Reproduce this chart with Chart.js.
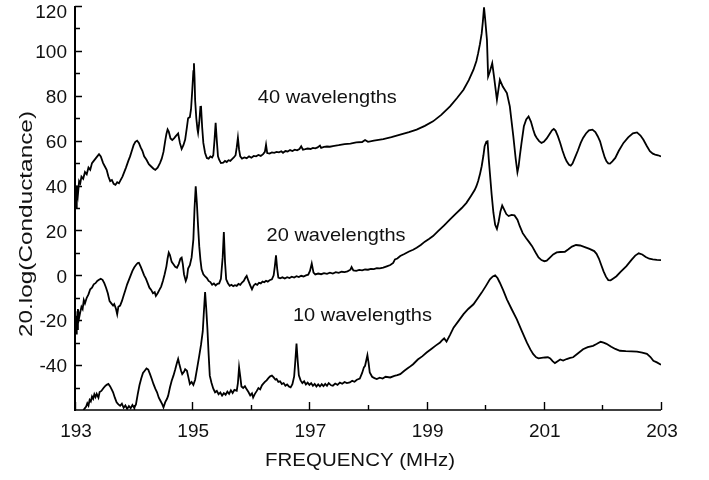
<!DOCTYPE html>
<html lang="en">
<head>
    <meta charset="UTF-8">
    <title>Conductance vs frequency</title>
    <script src="https://cdn.jsdelivr.net/npm/chart.js@4.4.1/dist/chart.umd.min.js"></script>
    <style>
        body{
            margin: 0;
            background-color: white;
        }
        #wrap{
            width: 709px;
            height: 480px;
            position: relative;
        }
    </style>
</head>
<body>
<div id="wrap"><canvas id="condChart"></canvas></div>
<script>
    // frequency (MHz), 20.log(conductance) pairs for each transducer length
    var trace40 = [
        [193.00,32],[193.01,38],[193.02,30],[193.03,40],[193.05,36],[193.07,42],[193.09,41],[193.11,44],[193.14,43],
        [193.17,46],[193.20,45],[193.23,48],[193.26,47],[193.29,50],[193.32,51],[193.35,52],[193.38,53],[193.41,54],
        [193.44,53],[193.48,50],[193.51,48.5],[193.54,47],[193.57,44],[193.60,42],[193.63,42.5],[193.66,40.8],
        [193.69,40.3],[193.72,41.5],[193.75,41],[193.78,42.5],[193.81,44],[193.84,46],[193.87,48],[193.91,51],
        [193.94,53],[193.97,55.5],[194.00,58],[194.03,59.5],[194.06,60],[194.09,59],[194.12,57],[194.15,55.5],
        [194.18,53],[194.22,51.5],[194.26,49.5],[194.30,48.5],[194.34,47.5],[194.37,47],[194.41,48],[194.45,50],
        [194.48,52],[194.51,55],[194.54,60],[194.56,63],[194.58,65],[194.60,64],[194.63,61],[194.66,60.3],
        [194.69,61],[194.72,62],[194.76,63.2],[194.79,59],[194.82,56.3],[194.85,58],[194.88,60.5],[194.91,66],
        [194.93,70],[194.96,70.5],[194.98,74],[195.00,82],[195.02,91],[195.03,94.5],[195.04,88],[195.05,78],
        [195.07,70],[195.09,65],[195.10,63.5],[195.12,68],[195.14,75],[195.15,75.5],[195.17,66],[195.19,59],
        [195.22,54.5],[195.25,52.3],[195.28,52],[195.31,53],[195.34,52.5],[195.36,53.5],[195.38,60],[195.40,68],
        [195.42,60],[195.44,53],[195.46,51.5],[195.49,50],[195.53,50.2],[195.56,51],[195.59,50.5],[195.62,51.3],
        [195.65,51],[195.68,51.8],[195.71,52.5],[195.74,53.5],[195.76,57],[195.78,61.3],[195.80,56],[195.82,53],
        [195.85,52],[195.89,52.5],[195.93,52.2],[195.97,53],[196.01,52.4],[196.05,53.2],[196.09,53],[196.13,53.6],
        [196.17,53.2],[196.21,54],[196.24,55],[196.26,58.2],[196.28,54.5],[196.32,54.3],[196.36,54.8],[196.40,54.6],
        [196.44,55],[196.48,54.8],[196.52,55.3],[196.55,54.6],[196.59,55.4],[196.63,55.2],[196.67,55.8],[196.71,55.4],
        [196.75,56],[196.79,55.7],[196.83,56.3],[196.86,57.5],[196.89,56],[196.93,56.2],[196.97,56.5],[197.02,56.3],
        [197.06,56.8],[197.10,56.6],[197.14,57],[197.18,57.8],[197.20,56.8],[197.25,57.2],[197.30,57.4],[197.35,57.3],
        [197.40,57.6],[197.50,58],[197.60,58.5],[197.70,58.7],[197.80,59.2],[197.90,59.4],[197.95,60.3],[198.00,59.5],
        [198.10,60],[198.26,60.7],[198.40,61.6],[198.55,62.7],[198.70,63.8],[198.83,64.9],[198.97,66.6],[199.11,68.6],
        [199.25,71.5],[199.40,75.3],[199.52,79],[199.63,82.7],[199.72,87],[199.80,91.6],[199.85,95.5],[199.88,99],
        [199.91,103],[199.94,107.8],[199.96,113],[199.98,119.4],[200.00,114],[200.03,104.9],[200.05,88.6],
        [200.08,90.8],[200.12,94.5],[200.15,88.6],[200.20,78.2],[200.25,87.1],[200.30,84.1],[200.37,81.2],
        [200.42,75.3],[200.48,61.9],[200.52,52],[200.55,45.9],[200.57,48.5],[200.59,53],[200.62,59],[200.66,66.4],
        [200.70,69.5],[200.74,70.8],[200.78,68.5],[200.82,64.9],[200.85,62.5],[200.88,61.2],[200.92,59.8],
        [200.96,59],[201.00,59.5],[201.05,61],[201.11,63.4],[201.14,64.6],[201.17,65.2],[201.20,64.5],[201.24,62],
        [201.28,59],[201.32,55.5],[201.36,52.5],[201.39,50.8],[201.43,49.3],[201.46,48.9],[201.49,49.8],
        [201.53,52.3],[201.58,55.5],[201.63,59],[201.67,61.2],[201.72,63.2],[201.77,64.6],[201.83,64.9],
        [201.88,63.8],[201.92,62],[201.96,59.7],[202.00,56],[202.04,52.5],[202.07,50.8],[202.10,49.9],[202.13,49.8],
        [202.17,50.8],[202.22,52.3],[202.28,55.5],[202.36,59],[202.44,61.5],[202.52,63.3],[202.59,63.7],
        [202.65,62.3],[202.70,60.4],[202.76,57.5],[202.81,55.3],[202.86,54.2],[202.90,53.8],[202.95,53.5],[203.00,53]
    ];

    var trace20 = [
        [193.00,-22],[193.01,-16],[193.02,-26],[193.03,-18],[193.04,-24],[193.05,-15],[193.07,-19],[193.09,-16.4],
        [193.11,-14],[193.13,-15],[193.15,-11],[193.17,-12.5],[193.20,-10],[193.23,-8.5],[193.26,-6.2],[193.29,-5.5],
        [193.32,-4],[193.35,-3.5],[193.38,-2.5],[193.41,-2],[193.44,-1.5],[193.47,-2],[193.50,-3.5],[193.53,-5.5],
        [193.56,-8],[193.59,-11.5],[193.62,-12.5],[193.65,-13.5],[193.67,-12.8],[193.70,-15],[193.72,-17.3],
        [193.74,-14],[193.77,-13.5],[193.80,-11.5],[193.83,-9],[193.86,-6.5],[193.89,-4],[193.92,-2],[193.95,0],
        [193.98,2],[194.01,3.5],[194.04,4.6],[194.07,5.5],[194.09,5.6],[194.12,4],[194.15,2],[194.18,0],[194.21,-1.5],
        [194.24,-3.5],[194.27,-5.5],[194.30,-6.5],[194.33,-8],[194.36,-7.5],[194.38,-9.2],[194.41,-8],[194.44,-6.5],
        [194.47,-5],[194.50,-2.5],[194.53,0.5],[194.56,4],[194.58,7.5],[194.60,10.1],[194.62,9],[194.65,6],
        [194.68,4.9],[194.71,3.8],[194.74,3.4],[194.77,5],[194.80,7.5],[194.82,7.9],[194.84,5],[194.86,0.5],
        [194.89,-2.5],[194.91,-1],[194.93,3],[194.96,4.5],[194.99,8],[195.02,16],[195.04,30],[195.06,39.7],
        [195.08,32],[195.10,22],[195.12,13],[195.14,7],[195.16,2.7],[195.19,0.5],[195.22,-0.5],[195.25,-1.2],
        [195.28,-2.5],[195.31,-3],[195.34,-4.2],[195.37,-3.6],[195.40,-4.5],[195.43,-3.8],[195.46,-3.6],[195.49,-1.5],
        [195.52,8],[195.54,19.3],[195.56,6],[195.58,-1.8],[195.61,-3.5],[195.64,-4.7],[195.67,-4.2],[195.70,-4.8],
        [195.73,-4.4],[195.76,-4.7],[195.79,-3.8],[195.82,-4.2],[195.85,-3.2],[195.88,-2.5],[195.91,-1],[195.93,-0.3],
        [195.96,-2.5],[195.99,-4.5],[196.02,-6.2],[196.05,-4.5],[196.08,-3.8],[196.11,-4.2],[196.14,-3.3],
        [196.17,-3.6],[196.20,-2.8],[196.23,-3.1],[196.26,-2.4],[196.29,-2.8],[196.32,-2.2],[196.36,-1.8],[196.39,0],
        [196.41,4],[196.43,8.9],[196.45,3],[196.47,-1],[196.50,-1.3],[196.54,-0.9],[196.58,-1.4],[196.62,-0.8],
        [196.66,-1.2],[196.70,-0.6],[196.74,-1.0],[196.78,-0.4],[196.82,-0.8],[196.86,-0.2],[196.90,-0.5],[196.94,0],
        [196.98,0.3],[197.01,2],[197.04,5.3],[197.07,1.2],[197.10,0.4],[197.15,0.8],[197.20,0.5],[197.25,1],
        [197.30,0.7],[197.35,1.2],[197.40,0.8],[197.45,1.4],[197.50,1.1],[197.55,1.6],[197.60,1.4],[197.65,1.8],
        [197.70,2.5],[197.72,3.7],[197.75,2.2],[197.80,2],[197.85,2.4],[197.90,2.2],[197.95,2.6],[198.00,2.5],
        [198.05,2.9],[198.10,2.8],[198.15,3.2],[198.20,3.1],[198.26,3.4],[198.32,4],[198.38,4.6],[198.43,5.5],
        [198.46,7.1],[198.50,7.5],[198.55,8.6],[198.62,9.5],[198.70,10.6],[198.77,11.4],[198.83,12.3],[198.90,13.5],
        [198.97,15],[199.04,16.2],[199.11,17.5],[199.20,19.8],[199.30,22.3],[199.40,24.9],[199.50,27.5],[199.60,30],
        [199.68,32.3],[199.76,35.5],[199.82,38],[199.85,39.7],[199.88,42],[199.91,45],[199.94,48.6],[199.97,53.5],
        [199.99,57.5],[200.02,59.5],[200.04,59.7],[200.06,52],[200.08,45.6],[200.11,36],[200.14,27.9],[200.17,22.5],
        [200.20,20.7],[200.23,24],[200.26,28.5],[200.29,31.1],[200.32,29.5],[200.36,27.3],[200.40,26.4],
        [200.45,26.9],[200.50,26.7],[200.55,24.8],[200.59,21.9],[200.64,18.8],[200.70,16.5],[200.75,14.8],
        [200.80,13],[200.86,10.2],[200.91,8],[200.96,6.8],[201.01,6.3],[201.05,6.5],[201.10,7.8],[201.16,9.3],
        [201.22,10.2],[201.28,10.4],[201.36,10.5],[201.42,11.6],[201.48,12.8],[201.55,13.5],[201.62,13.3],
        [201.70,12.6],[201.78,11.8],[201.86,10.8],[201.90,9.6],[201.94,7.5],[201.98,4.6],[202.02,1.8],[202.06,-0.6],
        [202.10,-2.1],[202.14,-2.2],[202.18,-1.5],[202.24,-0.4],[202.31,1.5],[202.41,4.1],[202.50,7],[202.56,8.8],
        [202.62,9.8],[202.68,9.3],[202.74,8.2],[202.80,7.4],[202.86,7.1],[202.93,6.9],[203.00,6.8]
    ];

    var trace10 = [
        [193.10,-62],[193.16,-59.5],[193.19,-58.5],[193.21,-57],[193.23,-58],[193.25,-55.5],[193.27,-56.2],[193.29,-54],
        [193.31,-55],[193.33,-53],[193.35,-54.2],[193.37,-52.8],[193.40,-54.5],[193.42,-52],[193.45,-51.5],
        [193.48,-50.4],[193.51,-49.5],[193.54,-48.8],[193.57,-48.4],[193.60,-49.5],[193.63,-51],[193.65,-52.1],
        [193.68,-54.5],[193.71,-56.6],[193.74,-57.5],[193.77,-58.1],[193.80,-57.2],[193.83,-59],[193.86,-58],
        [193.89,-59.5],[193.92,-58.2],[193.95,-59.2],[193.98,-57.8],[194.01,-59],[194.04,-57.5],[194.07,-53],
        [194.10,-49],[194.13,-46],[194.16,-43.5],[194.19,-42.5],[194.22,-41.5],[194.25,-42],[194.28,-44],[194.31,-46.2],
        [194.34,-48.5],[194.37,-50.5],[194.40,-52.1],[194.43,-54.5],[194.46,-56],[194.49,-57.5],[194.51,-58.8],
        [194.54,-56.5],[194.57,-55],[194.59,-53.6],[194.62,-50],[194.65,-47],[194.68,-44.7],[194.71,-42],[194.74,-39],
        [194.76,-37.3],[194.78,-39.5],[194.81,-42.5],[194.83,-44],[194.86,-43],[194.88,-41.8],[194.91,-42.5],
        [194.94,-46],[194.96,-48.4],[194.99,-47.5],[195.02,-48.8],[195.05,-46.5],[195.08,-42],[195.12,-35.9],
        [195.15,-31],[195.18,-25],[195.20,-16],[195.22,-7.4],[195.24,-15],[195.26,-24],[195.28,-35],[195.30,-44.7],
        [195.33,-48],[195.36,-50.5],[195.39,-52.1],[195.42,-51.5],[195.45,-53],[195.48,-52.2],[195.51,-53.6],
        [195.54,-52.5],[195.57,-53.2],[195.60,-51.8],[195.63,-52.8],[195.66,-51.2],[195.69,-52.4],[195.72,-51],
        [195.76,-51.4],[195.78,-48],[195.80,-41],[195.82,-45],[195.84,-49.5],[195.87,-50.2],[195.90,-49.4],
        [195.93,-50.8],[195.96,-52],[195.99,-53.5],[196.02,-52.6],[196.04,-54.4],[196.07,-52.8],[196.10,-51.6],
        [196.13,-50.2],[196.16,-50.8],[196.19,-49],[196.21,-48.4],[196.24,-47.5],[196.27,-46.8],[196.30,-45.8],
        [196.33,-45],[196.36,-44.7],[196.39,-45.5],[196.42,-46.5],[196.44,-46.2],[196.47,-47.5],[196.50,-47.2],
        [196.53,-48.4],[196.56,-48],[196.59,-49.2],[196.62,-48.6],[196.65,-49.5],[196.68,-49.9],[196.71,-48.5],
        [196.74,-45],[196.76,-38],[196.78,-30.4],[196.80,-38],[196.82,-44.5],[196.85,-46.8],[196.88,-48],[196.91,-47.2],
        [196.94,-48.6],[196.97,-47.8],[197.00,-48.8],[197.03,-48],[197.06,-49.2],[197.09,-48.4],[197.12,-49.5],
        [197.15,-48.6],[197.18,-49.5],[197.21,-48.5],[197.24,-49.4],[197.27,-48.4],[197.30,-49.2],[197.33,-48],
        [197.37,-49],[197.40,-49.2],[197.44,-48.2],[197.48,-48.8],[197.52,-47.8],[197.56,-48.3],[197.60,-47.5],
        [197.64,-48],[197.69,-47.7],[197.73,-47],[197.77,-47.4],[197.81,-46.5],[197.86,-46],[197.90,-43.5],
        [197.93,-41],[197.95,-40.3],[197.99,-35.6],[198.01,-39],[198.03,-43.3],[198.07,-45.2],[198.11,-45.8],
        [198.15,-46.2],[198.20,-45.6],[198.25,-46],[198.30,-45.2],[198.38,-45.5],[198.45,-44.8],[198.50,-44.5],
        [198.55,-44],[198.62,-42.5],[198.70,-41],[198.77,-39.6],[198.85,-37.5],[198.93,-36],[199.00,-34.4],
        [199.08,-32.8],[199.16,-31.2],[199.23,-29.9],[199.27,-28.8],[199.30,-28.1],[199.34,-29.5],[199.40,-26.5],
        [199.46,-23.3],[199.54,-20.5],[199.63,-17.3],[199.71,-15],[199.80,-12.9],[199.87,-10.3],[199.94,-7.7],
        [200.01,-4.8],[200.08,-1.8],[200.13,-0.5],[200.17,0],[200.21,-1.2],[200.25,-3.3],[200.31,-6.8],[200.37,-10.7],
        [200.45,-15],[200.54,-19.6],[200.62,-24.5],[200.71,-29.9],[200.77,-33],[200.82,-35.1],[200.87,-36.5],
        [200.91,-37],[200.96,-36.8],[201.02,-36.6],[201.07,-36.5],[201.11,-37],[201.15,-38.2],[201.19,-39.1],
        [201.23,-38.4],[201.28,-37.5],[201.33,-38],[201.39,-37.3],[201.45,-36.8],[201.50,-36.5],[201.58,-34.8],
        [201.67,-32.9],[201.75,-32],[201.84,-31.4],[201.90,-30.6],[201.97,-29.6],[202.02,-30],[202.07,-30.5],
        [202.15,-31.8],[202.22,-32.8],[202.30,-33.6],[202.40,-33.8],[202.50,-33.9],[202.59,-34],[202.68,-34.4],
        [202.76,-35],[202.82,-36.4],[202.87,-38.1],[202.93,-38.8],[203.00,-39.8]
    ];

    var seriesNames = ['40 wavelengths', '20 wavelengths', '10 wavelengths'];
    var xTicks = [193, 195, 197, 199, 201, 203];
    var xMinor = [194, 196, 198, 200, 202];
    var yTicks = [120, 100, 80, 60, 40, 20, 0, -20, -40];
    var yMinor = [110, 90, 70, 50, 30, 10, -10, -30, -50];
    var xTitle = 'FREQUENCY (MHz)';
    var yTitle = '20.log(Conductance)';

    var FONT = '"Liberation Sans", Arial, Helvetica, sans-serif';

    // stretch a string to a given width (the figure's lettering is wide)
    function wideText(ctx, text, x, y, w) {
        var m = ctx.measureText(text).width;
        ctx.save();
        ctx.translate(x, y);
        ctx.scale(w / m, 1);
        ctx.fillText(text, 0, 0);
        ctx.restore();
    }

    var axesPlugin = {
        id: 'plotAxes',
        afterDraw: function(chart) {
            var ctx = chart.ctx;
            var xs = chart.scales.x, ys = chart.scales.y;
            var a = chart.chartArea;
            ctx.save();
            ctx.strokeStyle = '#000';
            ctx.fillStyle = '#111';

            // axis lines
            ctx.lineWidth = 2;
            ctx.beginPath();
            ctx.moveTo(a.left, a.top);
            ctx.lineTo(a.left, a.bottom + 1);
            ctx.stroke();
            ctx.lineWidth = 1.5;
            ctx.beginPath();
            ctx.moveTo(a.left, a.bottom);
            ctx.lineTo(a.right, a.bottom);
            ctx.stroke();

            // inward ticks
            ctx.lineWidth = 1.4;
            ctx.beginPath();
            xTicks.forEach(function(v) {
                var px = Math.round(xs.getPixelForValue(v)) + 0.5;
                ctx.moveTo(px, a.bottom); ctx.lineTo(px, a.bottom - 8);
            });
            xMinor.forEach(function(v) {
                var px = Math.round(xs.getPixelForValue(v)) + 0.5;
                ctx.moveTo(px, a.bottom); ctx.lineTo(px, a.bottom - 5);
            });
            yTicks.forEach(function(v) {
                var py = Math.round(ys.getPixelForValue(v)) + 0.5;
                ctx.moveTo(a.left, py); ctx.lineTo(a.left + 7, py);
            });
            yMinor.forEach(function(v) {
                var py = Math.round(ys.getPixelForValue(v)) + 0.5;
                ctx.moveTo(a.left, py); ctx.lineTo(a.left + 5, py);
            });
            ctx.stroke();

            // tick labels
            ctx.font = '19px ' + FONT;
            ctx.textBaseline = 'middle';
            ctx.textAlign = 'center';
            xTicks.forEach(function(v) {
                ctx.fillText(String(v), xs.getPixelForValue(v) + 1, a.bottom + 22);
            });
            ctx.textAlign = 'right';
            yTicks.forEach(function(v) {
                var py = Math.max(ys.getPixelForValue(v) + 2, a.top + 7);
                ctx.fillText(String(v), a.left - 8, py);
            });

            // axis titles
            ctx.font = '19px ' + FONT;
            ctx.textAlign = 'left';
            ctx.textBaseline = 'alphabetic';
            var tw = 190;
            wideText(ctx, xTitle, (a.left + a.right) / 2 - 8 - tw / 2, 466, tw);
            ctx.save();
            ctx.translate(32, 224);
            ctx.rotate(-Math.PI / 2);
            var yw = 226;
            wideText(ctx, yTitle, -yw / 2, 0, yw);
            ctx.restore();

            // curve names
            ctx.font = '19px ' + FONT;
            var spots = [[196.12, 76.9], [196.27, 15.1], [196.72, -20.4]];
            seriesNames.forEach(function(name, i) {
                wideText(ctx, name, xs.getPixelForValue(spots[i][0]), ys.getPixelForValue(spots[i][1]), 139);
            });
            ctx.restore();
        }
    };

    function makeSet(name, pts) {
        return {
            label: name,
            data: pts,
            borderColor: '#000',
            borderWidth: 1.8,
            pointRadius: 0,
            tension: 0,
            fill: false
        };
    }

    window.onload = function() {
        var ctx = document.getElementById('condChart').getContext('2d');
        new Chart(ctx, {
            type: 'line',
            data: {
                datasets: [
                    makeSet(seriesNames[0], trace40),
                    makeSet(seriesNames[1], trace20),
                    makeSet(seriesNames[2], trace10)
                ]
            },
            options: {
                responsive: true,
                maintainAspectRatio: false,
                animation: false,
                events: [],
                layout: {
                    padding: { left: 75, right: 48, top: 6, bottom: 70 }
                },
                scales: {
                    x: { type: 'linear', min: 193, max: 203, display: false },
                    y: { type: 'linear', min: -60, max: 120, display: false }
                },
                plugins: {
                    legend: { display: false },
                    tooltip: { enabled: false }
                }
            },
            plugins: [axesPlugin]
        });
    };
</script>
</body>
</html>
